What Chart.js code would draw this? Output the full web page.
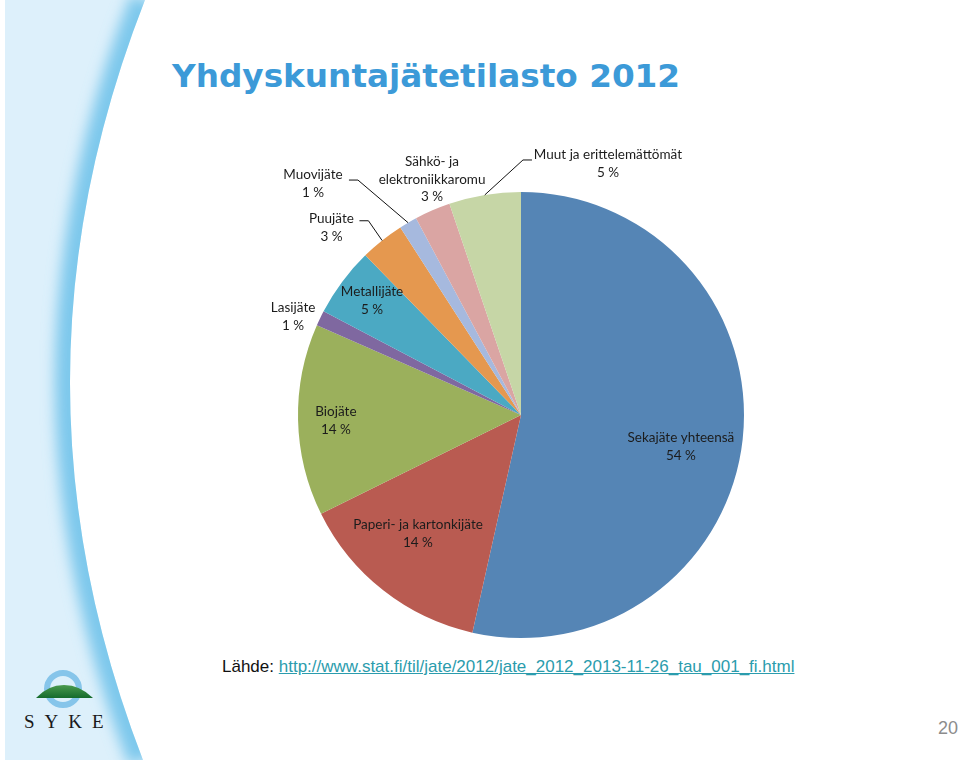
<!DOCTYPE html>
<html>
<head>
<meta charset="utf-8">
<script src="https://cdn.jsdelivr.net/npm/chart.js@4.4.1/dist/chart.umd.min.js"></script>
<style>
  html, body { margin: 0; padding: 0; background: #ffffff; }
  #wrap { position: relative; width: 960px; height: 763px; overflow: hidden; background: #fff; }
  #bg { position: absolute; left: 0; top: 0; }
  #chart { position: absolute; left: 0; top: 0; }
  .title { position: absolute; left: 172px; top: 60px; line-height: 1; font-family: "DejaVu Sans", "Liberation Sans", Arial, sans-serif; font-weight: bold; font-size: 32.7px; color: #3C9AD8; white-space: nowrap; }
  .src { position: absolute; left: 222px; top: 657px; font-family: "Liberation Sans", Arial, sans-serif; font-size: 17px; color: #111; white-space: nowrap; }
  .src a { color: #2B9CAD; text-decoration: underline; }
  .pg { position: absolute; left: 938px; top: 718px; font-family: "Liberation Sans", Arial, sans-serif; font-size: 18px; color: #8C8C8C; }
  .syke { position: absolute; left: 24px; top: 711px; font-family: "Liberation Serif", "DejaVu Serif", serif; font-size: 19px; color: #1a1a1a; letter-spacing: 10px; white-space: nowrap; }
</style>
</head>
<body>
<div id="wrap">
  <svg id="bg" width="960" height="763" viewBox="0 0 960 763">
    <defs>
      <clipPath id="band"><path d="M5,0 L145,0 Q-4,380 143,760 L5,760 Z"/></clipPath>
      <filter id="blur" x="-50%" y="-10%" width="200%" height="120%"><feGaussianBlur stdDeviation="7"/></filter>
      <linearGradient id="mound" x1="0" y1="0" x2="0" y2="1">
        <stop offset="0" stop-color="#4A9A4E"/>
        <stop offset="1" stop-color="#156B2C"/>
      </linearGradient>
    </defs>
    <path d="M5,0 L145,0 Q-4,380 143,760 L5,760 Z" fill="#DDF0FB"/>
    <g clip-path="url(#band)">
      <path d="M145,0 Q-4,380 143,760" fill="none" stroke="#7DC8EC" stroke-width="30" filter="url(#blur)"/>
    </g>
    <circle cx="63" cy="689" r="16" fill="none" stroke="#86C5EA" stroke-width="6"/>
    <path d="M36,698 Q48,685 64,685 Q80,685 93,698 Z" fill="url(#mound)"/>
  </svg>
  <div class="title">Yhdyskuntajätetilasto 2012</div>
  <div class="src">Lähde: <a>http://www.stat.fi/til/jate/2012/jate_2012_2013-11-26_tau_001_fi.html</a></div>
  <div class="pg">20</div>
  <div class="syke">SYKE</div>
  <canvas id="chart" width="960" height="763"></canvas>
</div>
<script>
// ---- data (clockwise from 12 o'clock) ----
const categories = [
  "Sekajäte yhteensä",
  "Paperi- ja kartonkijäte",
  "Biojäte",
  "Lasijäte",
  "Metallijäte",
  "Puujäte",
  "Muovijäte",
  "Sähkö- ja elektroniikkaromu",
  "Muut ja erittelemättömät"
];
const shares = [53.5, 14.2, 13.9, 1.1, 5.0, 3.2, 1.3, 2.6, 5.2];
const labelLines = [
  ["Sekajäte yhteensä"],
  ["Paperi- ja kartonkijäte"],
  ["Biojäte"],
  ["Lasijäte"],
  ["Metallijäte"],
  ["Puujäte"],
  ["Muovijäte"],
  ["Sähkö- ja", "elektroniikkaromu"],
  ["Muut ja erittelemättömät"]
];

// ---- styles ----
const colors = ["#5585B5", "#B95B51", "#9BB05C", "#7F68A0", "#4BA9C3", "#E5984F", "#A6B9DE", "#DAA5A3", "#C6D6A6"];
// label anchors (centre of first line) relative to the pie centre, in units of the radius
const labelPos = [
  [0.717, 0.103], [-0.462, 0.493], [-0.830, -0.013], [-1.022, -0.480],
  [-0.668, -0.552], [-0.850, -0.880], [-0.933, -1.076], [-0.399, -1.134], [0.390, -1.166]
];
// leader lines: [dx start, dx elbow, dy] in px from the label anchor, ending at the slice's rim
const leaders = [null, null, null, null, null, [28, 37, 2], [36, 45, 5], null, [-76, -85, 5]];

const labelPlugin = {
  id: "sliceLabels",
  afterDatasetsDraw(chart) {
    const ctx = chart.ctx;
    const meta = chart.getDatasetMeta(0);
    ctx.save();
    ctx.font = "13.5px Lato, 'Open Sans', sans-serif";
    ctx.fillStyle = "#1c1c1c";
    ctx.textAlign = "center";
    ctx.textBaseline = "middle";
    meta.data.forEach((arc, i) => {
      const cx = arc.x, cy = arc.y, r = arc.outerRadius;
      const ax = cx + labelPos[i][0] * r;
      const ay = cy + labelPos[i][1] * r;
      const lines = labelLines[i].concat([Math.round(shares[i]) + " %"]);
      lines.forEach((t, k) => ctx.fillText(t, ax, ay + k * 17.5));
      const ld = leaders[i];
      if (ld) {
        const mid = (arc.startAngle + arc.endAngle) / 2;
        const ex = cx + Math.cos(mid) * r;
        const ey = cy + Math.sin(mid) * r;
        ctx.beginPath();
        ctx.strokeStyle = "#111";
        ctx.lineWidth = 1;
        ctx.moveTo(ax + ld[0], ay + ld[2]);
        ctx.lineTo(ax + ld[1], ay + ld[2]);
        ctx.lineTo(ex, ey);
        ctx.stroke();
      }
    });
    ctx.restore();
  }
};

new Chart(document.getElementById("chart"), {
  type: "pie",
  data: {
    labels: categories,
    datasets: [{
      data: shares,
      backgroundColor: colors,
      borderWidth: 0
    }]
  },
  options: {
    responsive: false,
    animation: false,
    layout: { padding: { left: 298, top: 192, right: 216, bottom: 125 } },
    plugins: { legend: { display: false }, tooltip: { enabled: false } }
  },
  plugins: [labelPlugin]
});
</script>
</body>
</html>
